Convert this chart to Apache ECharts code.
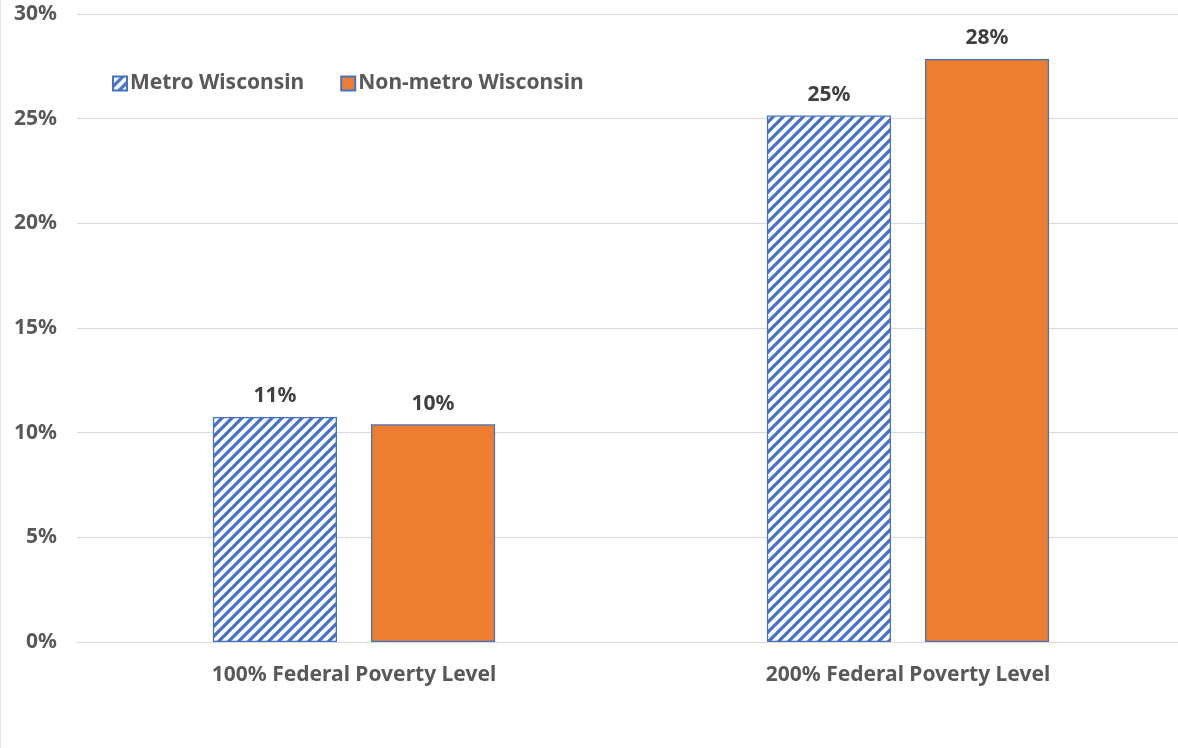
<!DOCTYPE html>
<html>
<head>
<meta charset="utf-8">
<script src="https://cdn.jsdelivr.net/npm/echarts@6/dist/echarts.min.js"></script>
<style>html,body{margin:0;padding:0;background:#fff}#c{width:1178px;height:748px}</style>
</head>
<body>
<div id="c"></div>
<script>
const categories = ['100% Federal Poverty Level', '200% Federal Poverty Level'];
const seriesNames = ['Metro Wisconsin', 'Non-metro Wisconsin'];
const metroValues = [10.75, 25.15];
const nonMetroValues = [10.4, 27.85];
const metroLabels = ['11%', '25%'];
const nonMetroLabels = ['10%', '28%'];

function makeStripe() {
  const s = 10;
  const cv = document.createElement('canvas');
  cv.width = s; cv.height = s;
  const ctx = cv.getContext('2d');
  ctx.fillStyle = '#ffffff';
  ctx.fillRect(0, 0, s, s);
  ctx.strokeStyle = '#4472C4';
  ctx.lineWidth = 3.2;
  ctx.beginPath();
  [0, s, 2 * s].forEach(function (c) {
    ctx.moveTo(-5, c + 5);
    ctx.lineTo(c + 5, -5);
  });
  ctx.stroke();
  return cv;
}

const chart = echarts.init(document.getElementById('c'), null, { renderer: 'canvas' });
const font = '"Noto Sans", "Open Sans", sans-serif';
const labelStyle = (arr) => ({
  show: true, position: 'top', distance: 10,
  formatter: (p) => arr[p.dataIndex],
  color: '#404040', fontSize: 21, fontWeight: 'bold', fontFamily: font
});

chart.setOption({
  animation: false,
  textStyle: { fontFamily: font },
  graphic: [{ type: 'line', shape: { x1: 0.5, y1: 0, x2: 0.5, y2: 748 }, style: { stroke: '#e6e6e6', lineWidth: 1 } }],
  legend: {
    left: 107, top: 68, itemWidth: 14, itemHeight: 14, itemGap: 36,
    icon: 'rect',
    textStyle: { color: '#595959', fontSize: 21, fontWeight: 'bold', fontFamily: font, padding: [0, 0, 0, -2] },
    data: seriesNames
  },
  grid: { left: 77, top: 14, width: 1108, bottom: 106, containLabel: false, outerBoundsMode: 'none' },
  xAxis: {
    type: 'category', data: categories,
    axisLine: { show: true, lineStyle: { color: '#d9d9d9', width: 1 } },
    axisTick: { show: false },
    axisLabel: { color: '#595959', fontSize: 21, fontWeight: 'bold', fontFamily: font, margin: 23 }
  },
  yAxis: {
    type: 'value', min: 0, max: 30, interval: 5,
    axisLine: { show: false }, axisTick: { show: false },
    splitLine: { lineStyle: { color: '#d9d9d9', width: 1 } },
    axisLabel: { formatter: '{value}%', color: '#595959', fontSize: 21, fontWeight: 'bold', fontFamily: font, margin: 20 }
  },
  series: [
    {
      name: seriesNames[0], type: 'bar', data: metroValues,
      barWidth: '22.4%', barGap: '27.4%',
      itemStyle: { color: { image: makeStripe(), repeat: 'repeat' }, borderColor: '#4472C4', borderWidth: 1.3 },
      label: labelStyle(metroLabels)
    },
    {
      name: seriesNames[1], type: 'bar', data: nonMetroValues,
      barWidth: '22.4%',
      itemStyle: { color: '#ED7D31', borderColor: '#4472C4', borderWidth: 1.3 },
      label: labelStyle(nonMetroLabels)
    }
  ]
});
</script>
</body>
</html>
